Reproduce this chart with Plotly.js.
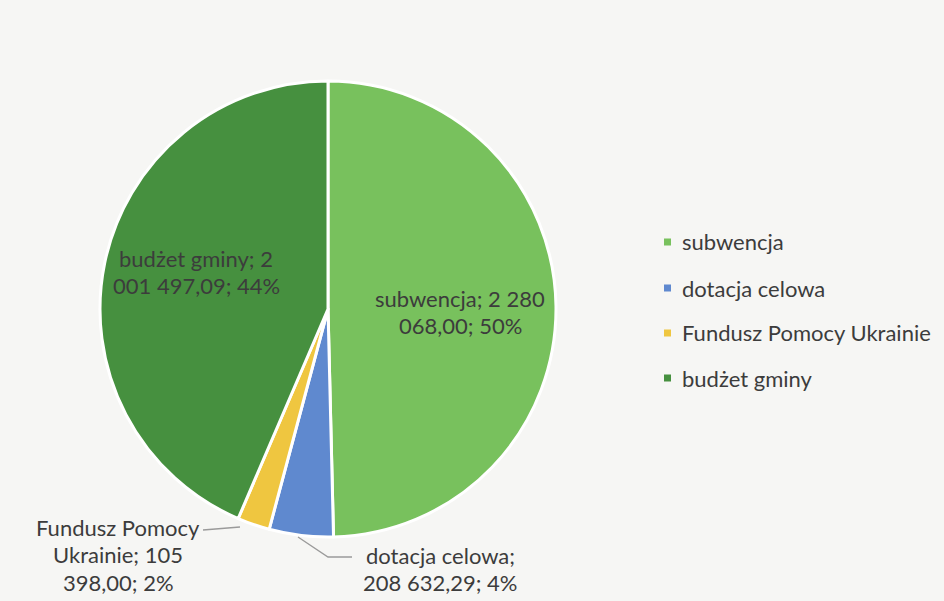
<!DOCTYPE html>
<html><head><meta charset="utf-8">
<script src="https://cdn.plot.ly/plotly-3.0.1.min.js"></script>
<style>html,body{margin:0;padding:0;background:#f6f6f4;}</style>
</head><body>
<div id="chart" style="width:944px;height:601px;"></div>
<script>
const categories = ['subwencja', 'dotacja celowa', 'Fundusz Pomocy Ukrainie', 'budżet gminy'];
const values = [2280068.00, 208632.29, 105398.00, 2001497.09];
const percentLabels = ['50%', '4%', '2%', '44%'];
const colors = ['#78c15d', '#5f89cf', '#efc640', '#46903f'];

const W = 944, H = 601;
const px = x => x / W, py = y => 1 - y / H;

function fmtPL(v) {
  const [i, d] = v.toFixed(2).split('.');
  return i.replace(/\B(?=(\d{3})+(?!\d))/g, ' ') + ',' + d;
}
function wrap(s, max) {
  const words = s.split(' '); const lines = []; let cur = '';
  for (const w of words) {
    if (cur && (cur + ' ' + w).length > max) { lines.push(cur); cur = w; }
    else cur = cur ? cur + ' ' + w : w;
  }
  if (cur) lines.push(cur);
  return lines;
}
const labelLines = categories.map((c, i) => wrap(c + '; ' + fmtPL(values[i]) + '; ' + percentLabels[i], 16));

const labelPos = [
  {x: 460, y: 298},
  {x: 440, y: 555},
  {x: 118, y: 527},
  {x: 196, y: 258}
];
const lineH = 27.5;
const txtFont = {family: 'Lato, "Open Sans", sans-serif', size: 22, color: '#3c3c3c'};

const annotations = [];
labelLines.forEach((lines, i) => {
  lines.forEach((ln, k) => {
    annotations.push({
      xref: 'paper', yref: 'paper', x: px(labelPos[i].x), y: py(labelPos[i].y + k * lineH),
      text: ln, showarrow: false, xanchor: 'center', yanchor: 'middle', font: txtFont
    });
  });
});

const shapes = [];
shapes.push({type: 'path', xref: 'paper', yref: 'paper',
  path: `M ${px(203)} ${py(530)} L ${px(240)} ${py(527)}`, line: {color: '#9a9a9a', width: 1.3}});
shapes.push({type: 'path', xref: 'paper', yref: 'paper',
  path: `M ${px(298)} ${py(537)} L ${px(328)} ${py(557)} L ${px(352)} ${py(557)}`, line: {color: '#9a9a9a', width: 1.3}});

const legY = [242, 288, 333, 378];
categories.forEach((c, i) => {
  shapes.push({type: 'rect', xref: 'paper', yref: 'paper',
    x0: px(664), x1: px(671), y0: py(legY[i] - 3.5), y1: py(legY[i] + 3.5),
    fillcolor: colors[i], line: {width: 0}});
  annotations.push({xref: 'paper', yref: 'paper', x: px(680), y: py(legY[i]), text: c,
    showarrow: false, xanchor: 'left', yanchor: 'middle', font: txtFont});
});

const trace = {
  type: 'pie', labels: categories, values: values, sort: false, direction: 'clockwise', rotation: 0,
  marker: {colors: colors, line: {color: '#ffffff', width: 3}},
  textinfo: 'none', hoverinfo: 'label+value',
  domain: {x: [px(99), px(557)], y: [py(537), py(81)]},
  showlegend: false
};

Plotly.newPlot('chart', [trace], {
  width: W, height: H, margin: {l: 0, r: 0, t: 0, b: 0},
  paper_bgcolor: '#f6f6f4', plot_bgcolor: '#f6f6f4',
  showlegend: false, annotations: annotations, shapes: shapes
}, {displayModeBar: false, staticPlot: true});
</script>
</body></html>
